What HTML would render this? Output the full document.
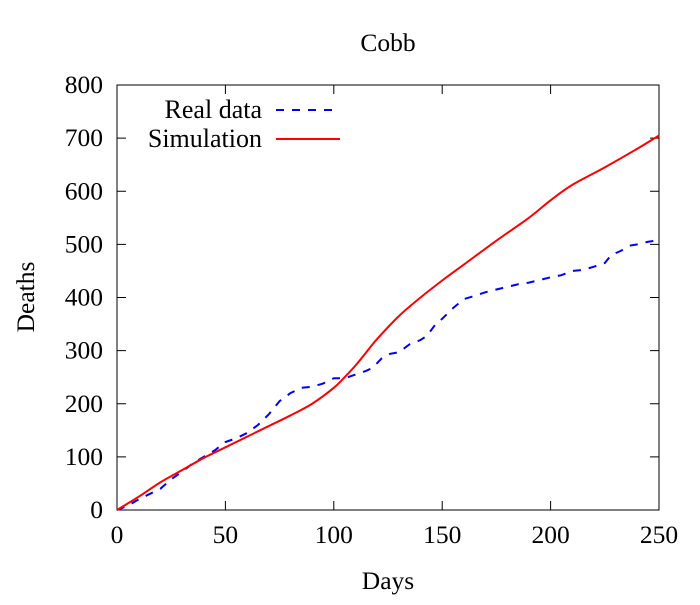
<!DOCTYPE html>
<html><head><meta charset="utf-8"><style>
body{margin:0;background:#fff}
text{font-family:"Liberation Serif",serif;fill:#000}
</style></head><body>
<svg id="chart" width="700" height="600" xmlns="http://www.w3.org/2000/svg">
<text x="388" y="51" font-size="25.5" text-anchor="middle">Cobb</text>
<text x="388" y="589" font-size="25.5" text-anchor="middle">Days</text>
<text x="34" y="297" font-size="25.5" text-anchor="middle" transform="rotate(-90 34 297)">Deaths</text>
<g id="axes"></g>
<g id="series"></g>
<g>
<text x="262" y="118" font-size="26" text-anchor="end">Real data</text>
<line x1="276" y1="110" x2="340" y2="110" stroke="#00f" stroke-width="2" stroke-dasharray="8,8"/>
<text x="262" y="147" font-size="26" text-anchor="end">Simulation</text>
<line x1="276" y1="139" x2="340" y2="139" stroke="#f00" stroke-width="2"/>
</g>
</svg>
<script>
const xTicks=[0,50,100,150,200,250];
const yTicks=[0,100,200,300,400,500,600,700,800];
const realDays=[0,5,10,15,20,25,30,35,40,45,50,55,60,65,70,75,80,85,90,95,100,105,110,115,118,122,126,130,135,140,143,147,150,155,160,165,170,175,180,185,190,195,200,205,210,215,220,225,228,232,237,240,245,250];
const realDeaths=[0,8,20,30,40,58,72,88,100,112,128,135,145,160,180,205,220,230,232,238,248,248,255,262,268,285,294,297,312,320,328,350,360,380,397,403,410,415,420,425,428,433,438,442,450,452,458,465,480,487,498,500,505,508];
const simDays=[0,10,20,30,40,50,60,70,80,90,100,105,110,115,120,130,140,150,160,175,190,200,210,225,240,250];
const simDeaths=[0,25,52,75,98,118,138,158,178,200,230,250,272,297,322,365,400,432,462,507,550,583,612,645,680,705];
const X0=117,X1=659,Y0=510,Y1=85;
const sx=d=>X0+(d-xTicks[0])/(xTicks[xTicks.length-1]-xTicks[0])*(X1-X0);
const sy=v=>Y0-(v-yTicks[0])/(yTicks[yTicks.length-1]-yTicks[0])*(Y0-Y1);
const NS="http://www.w3.org/2000/svg";
const axes=document.getElementById('axes');
function mk(tag,attrs,parent){const e=document.createElementNS(NS,tag);for(const k in attrs)e.setAttribute(k,attrs[k]);parent.appendChild(e);return e;}
function smooth(pts){let d=`M${pts[0][0]},${pts[0][1]}`;for(let i=0;i<pts.length-1;i++){const p0=pts[Math.max(i-1,0)],p1=pts[i],p2=pts[i+1],p3=pts[Math.min(i+2,pts.length-1)];d+=` C${p1[0]+(p2[0]-p0[0])/6},${p1[1]+(p2[1]-p0[1])/6} ${p2[0]-(p3[0]-p1[0])/6},${p2[1]-(p3[1]-p1[1])/6} ${p2[0]},${p2[1]}`;}return d;}
const frame=mk('rect',{x:X0,y:Y1,width:X1-X0,height:Y0-Y1,fill:'none',stroke:'#000','stroke-width':1},axes);


xTicks.forEach(t=>{
 const x=sx(t);
 const l=mk('path',{d:`M${x},${Y0}v-9M${x},${Y1}v9`,stroke:'#000'},axes);
 
 
 const tx=mk('text',{x:x,y:Y0+33,'font-size':25.5,'text-anchor':'middle'},axes);tx.textContent=t;
 
 
});
yTicks.forEach(t=>{
 const y=sy(t);
 const l=mk('path',{d:`M${X0},${y}h9M${X1},${y}h-9`,stroke:'#000'},axes);
 
 
 const tx=mk('text',{x:X0-14,y:y+8,'font-size':25.5,'text-anchor':'end'},axes);tx.textContent=t;
 
 
});
const series=document.getElementById('series');
const real=mk('polyline',{points:realDays.map((d,i)=>sx(d)+','+sy(realDeaths[i])).join(' '),fill:'none',stroke:'#00f','stroke-width':2,'stroke-dasharray':'8,8'},series);


const sim=mk('path',{d:smooth(simDays.map((d,i)=>[sx(d),sy(simDeaths[i])])),fill:'none',stroke:'#f00','stroke-width':2,'stroke-linejoin':'round'},series);


</script>
</body></html>
